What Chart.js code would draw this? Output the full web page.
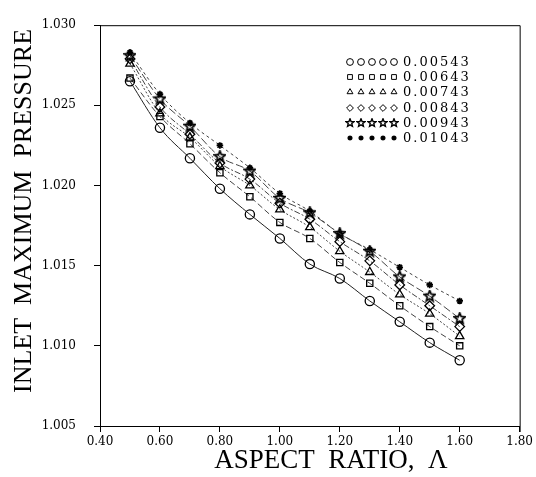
<!DOCTYPE html>
<html>
<head>
<meta charset="utf-8">
<script src="https://cdn.jsdelivr.net/npm/chart.js@4/dist/chart.umd.min.js"></script>
<style>
  html, body { margin: 0; padding: 0; background: #fff; }
  #wrap { width: 536px; height: 477px; }
</style>
</head>
<body>
<div id="wrap"><canvas id="c" width="536" height="477"></canvas></div>
<script>
// ---- data ----
const aspectRatio = [0.5, 0.6, 0.7, 0.8, 0.9, 1.0, 1.1, 1.2, 1.3, 1.4, 1.5, 1.6];
const seriesLabels = ['0.00543', '0.00643', '0.00743', '0.00843', '0.00943', '0.01043'];
const p00543 = [1.0265, 1.0236, 1.0217, 1.0198, 1.0182, 1.0167, 1.0151, 1.0142, 1.0128, 1.0115, 1.0102, 1.0091];
const p00643 = [1.0267, 1.0243, 1.0226, 1.0208, 1.0193, 1.0177, 1.0167, 1.0152, 1.0139, 1.0125, 1.0112, 1.0100];
const p00743 = [1.0276, 1.0245, 1.0230, 1.0212, 1.0200, 1.0185, 1.0174, 1.0159, 1.0146, 1.0132, 1.0120, 1.0106];
const p00843 = [1.0279, 1.0249, 1.0232, 1.0214, 1.0204, 1.0189, 1.0179, 1.0165, 1.0153, 1.0138, 1.0125, 1.0112];
const p00943 = [1.0281, 1.0254, 1.0237, 1.0218, 1.0209, 1.0192, 1.0183, 1.0170, 1.0159, 1.0143, 1.0131, 1.0117];
const p01043 = [1.0283, 1.0257, 1.0239, 1.0225, 1.0211, 1.0195, 1.0184, 1.0170, 1.0160, 1.0149, 1.0138, 1.0128];
const xTickValues = [0.40, 0.60, 0.80, 1.00, 1.20, 1.40, 1.60, 1.80];
const yTickValues = [1.005, 1.010, 1.015, 1.020, 1.025, 1.030];

// ---- custom five-point star marker ----
function makeStar(size, lw) {
  const c = document.createElement('canvas');
  c.width = size; c.height = size;
  const g = c.getContext('2d');
  const cx = size / 2, cy = size / 2, R = size / 2 - 0.8, r = R * 0.45;
  g.beginPath();
  for (let i = 0; i < 10; i++) {
    const ang = -Math.PI / 2 + i * Math.PI / 5;
    const rad = i % 2 === 0 ? R : r;
    const px = cx + rad * Math.cos(ang), py = cy + rad * Math.sin(ang);
    if (i === 0) g.moveTo(px, py); else g.lineTo(px, py);
  }
  g.closePath();
  g.lineWidth = lw; g.strokeStyle = '#000'; g.stroke();
  return c;
}
const starBig = makeStar(13, 1.7);
const starSmall = makeStar(10, 1.4);

const seriesValues = [p00543, p00643, p00743, p00843, p00943, p01043];
const pointStyles = ['circle', 'rect', 'triangle', 'rectRot', starBig, 'star'];
const legendStyles = ['circle', 'rect', 'triangle', 'rectRot', starSmall, 'star'];
const pointRadii = [4.6, 4.4, 4.8, 4.8, 6, 3.3];
const dashes = [[], [6, 3], [2, 2], [6, 2, 2, 2], [8, 3], [3, 3]];

const datasets = seriesValues.map((vals, i) => ({
  label: seriesLabels[i],
  data: aspectRatio.map((x, j) => ({ x: x, y: vals[j] })),
  borderColor: i === 0 ? '#222' : '#444',
  borderWidth: 1,
  borderDash: dashes[i],
  pointStyle: pointStyles[i],
  pointRadius: pointRadii[i],
  pointBorderColor: '#000',
  pointBackgroundColor: i === 5 ? '#000' : 'rgba(255,255,255,0)',
  pointBorderWidth: i === 5 ? 1.7 : 1.3,
  cubicInterpolationMode: 'monotone',
  fill: false
}));

const decor = {
  id: 'decor',
  afterDraw(chart) {
    const ctx = chart.ctx, a = chart.chartArea;
    ctx.save();
    // top and right frame
    ctx.strokeStyle = '#000';
    ctx.lineWidth = 1;
    ctx.setLineDash([]);
    ctx.beginPath();
    ctx.moveTo(a.left, a.top + 0.5);
    ctx.lineTo(a.right + 0.5, a.top + 0.5);
    ctx.lineTo(a.right + 0.5, a.bottom + 6);
    ctx.stroke();

    // axis titles
    ctx.fillStyle = '#000';
    ctx.textAlign = 'center';
    ctx.textBaseline = 'middle';
    ctx.font = '27px "Liberation Serif"';
    ctx.fillText('ASPECT  RATIO,  Λ', 331, 461);
    ctx.save();
    ctx.translate(24, 211);
    ctx.rotate(-Math.PI / 2);
    ctx.font = '26px "Liberation Serif"';
    ctx.fillText('INLET  MAXIMUM  PRESSURE', 0, 0);
    ctx.restore();

    // legend
    const rowTop = 62, rowH = 15.2, markX0 = 350, markDX = 11, textX = 403;
    ctx.font = '13px "DejaVu Serif"';
    ctx.textAlign = 'left';
    ctx.textBaseline = 'middle';
    if ('letterSpacing' in ctx) ctx.letterSpacing = '2px';
    chart.data.datasets.forEach((ds, i) => {
      const y = Math.round(rowTop + i * rowH);
      ctx.strokeStyle = '#000';
      ctx.fillStyle = i === 5 ? '#000' : 'rgba(255,255,255,0)';
      ctx.lineWidth = i === 5 ? 1.4 : 1;
      for (let k = 0; k < 5; k++) {
        Chart.helpers.drawPoint(ctx, {
          pointStyle: legendStyles[i],
          radius: i === 5 ? 2.6 : 3.4,
          rotation: 0,
          borderWidth: ctx.lineWidth
        }, markX0 + k * markDX, y);
      }
      ctx.fillStyle = '#000';
      ctx.fillText(ds.label, textX, y + 1);
    });
    ctx.restore();
  }
};

new Chart(document.getElementById('c'), {
  type: 'line',
  data: { datasets: datasets },
  plugins: [decor],
  options: {
    responsive: false,
    animation: false,
    layout: { padding: { top: 12, right: 14, left: 0, bottom: 0 } },
    plugins: { legend: { display: false }, tooltip: { enabled: false } },
    scales: {
      x: {
        type: 'linear',
        min: 0.4, max: 1.8,
        afterBuildTicks: s => { s.ticks = xTickValues.map(v => ({ value: v })); },
        afterFit: s => { s.height = 51; },
        ticks: {
          color: '#000', padding: 3, maxRotation: 0,
          font: { family: 'DejaVu Serif', size: 12 },
          callback: v => Number(v).toFixed(2)
        },
        grid: { drawOnChartArea: false, drawTicks: true, tickLength: 6, color: '#000' },
        border: { display: true, color: '#000', width: 1 }
      },
      y: {
        type: 'linear',
        min: 1.005, max: 1.030,
        afterBuildTicks: s => { s.ticks = yTickValues.map(v => ({ value: v })); },
        afterFit: s => { s.width = 100; },
        ticks: {
          color: '#000', padding: 18,
          font: { family: 'DejaVu Serif', size: 12 },
          callback: v => Number(v).toFixed(3)
        },
        grid: { drawOnChartArea: false, drawTicks: true, tickLength: 6, color: '#000' },
        border: { display: true, color: '#000', width: 1 }
      }
    }
  }
});
</script>
</body>
</html>
